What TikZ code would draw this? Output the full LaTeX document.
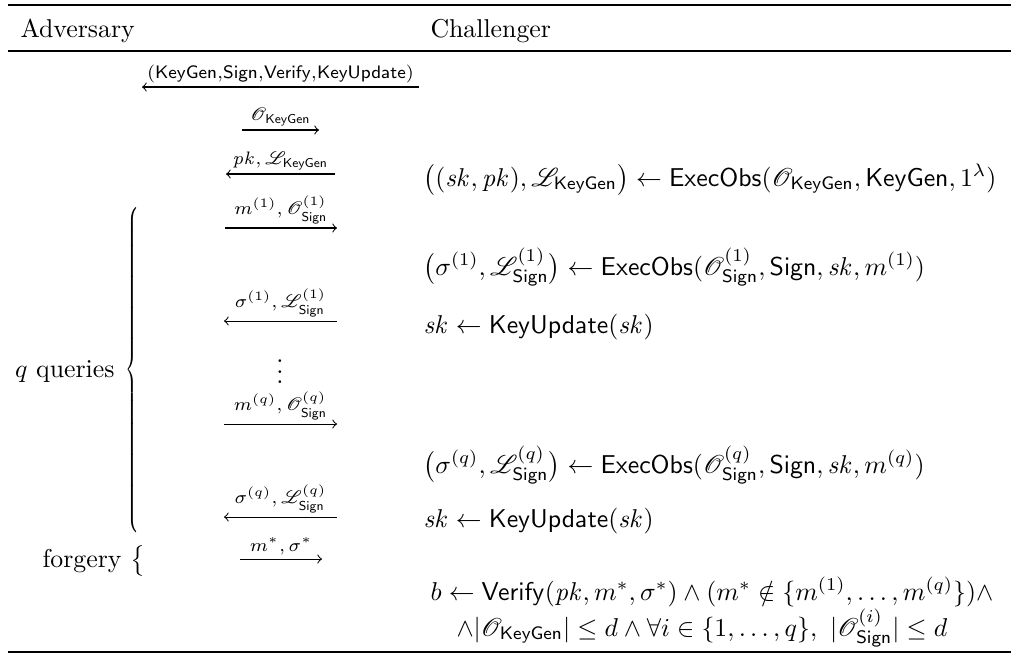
\documentclass[tikz,border=0pt]{standalone}
\usepackage{amsmath,amssymb}
\usepackage{mathrsfs}
\usepackage{graphicx}
\newcommand{\sk}{\mathit{sk}}
\newcommand{\pk}{\mathit{pk}}
\newcommand{\algo}[1]{\mathsf{#1}}
\begin{document}
\begin{tikzpicture}[x=0.3876pt,y=-0.3876pt,
  rule/.style={line width=0.8pt},
  msg/.style={line width=0.4pt,>=to},
  lbl/.style={above,inner sep=1.5pt},
  txt/.style={anchor=base west,inner sep=0pt}]
\useasboundingbox (0,0) rectangle (1011,654);
\draw[rule] (8,5) -- (1011,5);
\draw[line width=0.45pt] (8,51) -- (1011,51);
\draw[rule] (8,652) -- (1011,652);
\node[txt] (adv) at (20,37) {Adversary};
\node[txt] (chal) at (430,37) {Challenger};
% message ends
\foreach \n/\y/\xa/\xb in {1/87/142/419,2/130/242/319,3/174/226/335,4/228/225/337,
  5/321/224/337,7/424/224/337,8/517/224/337,9/559/240/322}{
  \coordinate (a\n) at (\xa,\y);
  \coordinate (b\n) at (\xb,\y);
}
\draw[msg,<-] (a1) -- node[lbl] (t1) {$\scriptstyle(\algo{KeyGen},\algo{Sign},\algo{Verify},\algo{KeyUpdate})$} (b1);
\draw[msg,->] (a2) -- node[lbl] (t2) {$\scriptstyle\mathscr{O}_{\algo{KeyGen}}$} (b2);
\draw[msg,<-] (a3) -- node[lbl] (t3) {$\scriptstyle\pk,\,\mathscr{L}_{\algo{KeyGen}}$} (b3);
\draw[msg,->] (a4) -- node[lbl] (t4) {$\scriptstyle m^{(1)},\,\mathscr{O}^{(1)}_{\algo{Sign}}$} (b4);
\draw[msg,<-] (a5) -- node[lbl] (t5) {$\scriptstyle\sigma^{(1)},\,\mathscr{L}^{(1)}_{\algo{Sign}}$} (b5);
\node (dots) at (280,364) {$\vdots$};
\draw[msg,->] (a7) -- node[lbl] (t7) {$\scriptstyle m^{(q)},\,\mathscr{O}^{(q)}_{\algo{Sign}}$} (b7);
\draw[msg,<-] (a8) -- node[lbl] (t8) {$\scriptstyle\sigma^{(q)},\,\mathscr{L}^{(q)}_{\algo{Sign}}$} (b8);
\draw[msg,->] (a9) -- node[lbl] (t9) {$\scriptstyle m^*,\,\sigma^*$} (b9);
% left side
\node[anchor=base east,inner sep=0pt] (qq) at (115,377) {$q$ queries};
\node[inner sep=0pt] (qbrace) at (133,373) {\scalebox{0.6}[1]{$\left\{\vrule height 64pt depth 63pt width 0pt\right.$}};
\node[txt] (forg) at (42,567) {forgery $\bigl\{$};
% challenger side
\node[txt] (r1) at (423,186) {$\bigl((\sk,\pk),\mathscr{L}_{\algo{KeyGen}}\bigr)\leftarrow\algo{ExecObs}(\mathscr{O}_{\algo{KeyGen}},\algo{KeyGen},1^\lambda)$};
\node[txt] (r2) at (423,275) {$\bigl(\sigma^{(1)},\mathscr{L}^{(1)}_{\algo{Sign}}\bigr)\leftarrow\algo{ExecObs}(\mathscr{O}^{(1)}_{\algo{Sign}},\algo{Sign},\sk,m^{(1)})$};
\node[txt] (r3) at (423,333) {$\sk\leftarrow\algo{KeyUpdate}(\sk)$};
\node[txt] (r4) at (423,473) {$\bigl(\sigma^{(q)},\mathscr{L}^{(q)}_{\algo{Sign}}\bigr)\leftarrow\algo{ExecObs}(\mathscr{O}^{(q)}_{\algo{Sign}},\algo{Sign},\sk,m^{(q)})$};
\node[txt] (r5) at (423,527) {$\sk\leftarrow\algo{KeyUpdate}(\sk)$};
\node[txt] (r6) at (430,600) {$b\leftarrow\algo{Verify}(\pk,m^*,\sigma^*)\wedge(m^*\notin\{m^{(1)},\dots,m^{(q)}\})\wedge$};
\node[txt] (r7) at (456,636) {$\wedge|\mathscr{O}_{\algo{KeyGen}}|\le d\wedge\forall i\in\{1,\dots,q\},\ |\mathscr{O}^{(i)}_{\algo{Sign}}|\le d$};
\end{tikzpicture}
\end{document}
